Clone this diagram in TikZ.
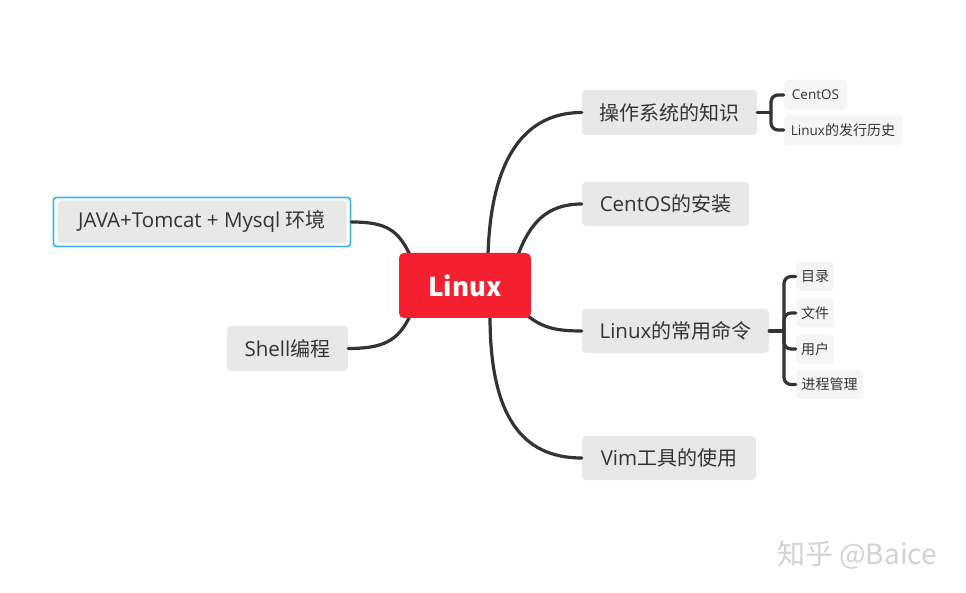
\documentclass[tikz,border=0pt]{standalone}
\usepackage{fontspec}
\setmainfont{Open Sans}
\newfontfamily\cjk{Noto Sans CJK SC}
\definecolor{txt}{HTML}{333333}
\definecolor{rootred}{HTML}{F5202F}
\definecolor{boxgray}{HTML}{E8E8E8}
\definecolor{subgray}{HTML}{F5F5F5}
\definecolor{selblue}{HTML}{3DB8E8}
\definecolor{linec}{HTML}{333333}
\definecolor{wm}{HTML}{D2D2D2}
\newcommand{\zh}[1]{{\cjk\fontsize{20}{22}\selectfont #1}}
\newcommand{\zs}[1]{{\cjk\fontsize{14}{15}\selectfont #1}}
\begin{document}
\begin{tikzpicture}[x=1pt,y=-1pt,
  mainbox/.style={fill=boxgray,rounded corners=4pt,inner sep=0pt,text=txt,font=\fontsize{20.5}{22}\selectfont},
  subbox/.style={fill=subgray,rounded corners=4pt,inner sep=0pt,text=txt,font=\fontsize{13.5}{15}\selectfont},
  conn/.style={draw=linec,line width=3.2pt,line cap=round},
]
\useasboundingbox (0,0) rectangle (966,593);
\fill[white] (0,0) rectangle (966,593);

\coordinate (s1) at (488,255);
\coordinate (s2) at (518,255);
\coordinate (s3) at (528,316);
\coordinate (s4) at (490,316);
\coordinate (s5) at (410,255);
\coordinate (s6) at (410,316);

% nodes
\node[mainbox,minimum width=175,minimum height=45] (op) at (669.5,112.5) {\zh{操作系统的知识}};
\node[mainbox,minimum width=167,minimum height=44] (ci) at (665.5,204) {CentOS\zh{的安装}};
\node[mainbox,minimum width=187,minimum height=44] (cmd) at (675.5,331) {Linux\zh{的常用命令}};
\node[mainbox,minimum width=174,minimum height=44] (vim) at (669,458) {Vim\zh{工具的使用}};
\node[mainbox,minimum width=121,minimum height=45] (sh) at (287.5,348.5) {Shell\zh{编程}};
\node[draw=selblue,line width=1.8pt,rounded corners=3pt,minimum width=297,minimum height=49,inner sep=0pt] (jo) at (202,222) {};
\node[mainbox,minimum width=289,minimum height=43] (ja) at (202,222) {JAVA+Tomcat + Mysql \zh{环境}};

\draw[conn] (s1) .. controls +(3,-100) and +(-55,0) .. (op.west);
\draw[conn] (s2) .. controls +(12,-32) and +(-35,0) .. (ci.west);
\draw[conn] (s3) .. controls +(15,12) and +(-25,0) .. (cmd.west);
\draw[conn] (s4) .. controls +(0,100) and +(-60,0) .. (vim.west);
\draw[conn] (s5) .. controls +(-12,-25) and +(35,0) .. (jo.east);
\draw[conn] (s6) .. controls +(-12,25) and +(35,0) .. (sh.east);

\node[fill=rootred,rounded corners=5pt,minimum width=132,minimum height=65,inner sep=0pt,text=white,font=\cjk\fontsize{26}{30}\selectfont\bfseries] (L) at (465,285.5) {Linux};

% sub nodes
\node[subbox,minimum width=63,minimum height=30] (c1) at (815.5,95) {CentOS};
\node[subbox,minimum width=118,minimum height=30] (c2) at (843,130) {Linux\zs{的发行历史}};
\node[subbox,minimum width=38,minimum height=29,font=\cjk\fontsize{14}{15}\selectfont] (d1) at (815,276.5) {目录};
\node[subbox,minimum width=38,minimum height=29,font=\cjk\fontsize{14}{15}\selectfont] (d2) at (815,313) {文件};
\node[subbox,minimum width=38,minimum height=29,font=\cjk\fontsize{14}{15}\selectfont] (d3) at (815,349) {用户};
\node[subbox,minimum width=67,minimum height=29,font=\cjk\fontsize{14}{15}\selectfont] (d4) at (829.5,384.5) {进程管理};

\coordinate (j1) at (771,112.5);
\coordinate (j2) at (784,331);
\draw[conn] (op.east) -- (j1);
\draw[conn,rounded corners=7pt] (c1.west) -| (j1) |- (c2.west);
\draw[conn] (cmd.east) -- (j2);
\draw[conn,rounded corners=7pt] (d1.west) -| (j2) |- (d4.west);
\draw[conn,rounded corners=7pt] (j2) |- (d2.west);
\draw[conn,rounded corners=7pt] (j2) |- (d3.west);

% watermark
\node[text=wm,font=\cjk\fontsize{28}{32}\selectfont,inner sep=0pt] (w) at (857,555) {知乎 @Baice};
\end{tikzpicture}
\end{document}
